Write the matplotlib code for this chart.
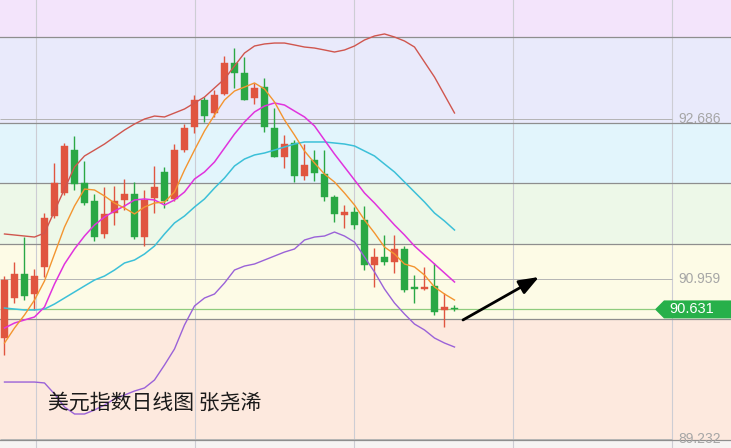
import numpy as np
import matplotlib
matplotlib.use("Agg")
import matplotlib.pyplot as plt
from matplotlib.patches import Polygon
import matplotlib.transforms as mtransforms

# ---------------- data ----------------
opens = [90.322, 90.754, 91.013, 90.797, 91.089, 91.639, 91.887, 92.351, 91.995, 91.801,
         91.445, 91.671, 91.812, 91.877, 91.412, 91.833, 92.114, 91.823, 92.351, 92.600,
         92.891, 92.751, 92.956, 93.291, 93.183, 92.913, 93.031, 92.589, 92.276, 92.427,
         92.071, 92.244, 92.092, 91.844, 91.650, 91.682, 91.596, 91.110, 91.197, 91.143,
         91.283, 90.862, 90.851, 90.884, 90.625, 90.646]
closes = [90.948, 91.013, 90.776, 90.991, 91.618, 91.995, 92.395, 91.984, 91.779, 91.412,
          91.661, 91.801, 91.877, 91.412, 91.812, 91.952, 91.801, 92.351, 92.589, 92.891,
          92.718, 92.945, 93.291, 93.183, 92.891, 93.021, 92.600, 92.276, 92.416, 92.071,
          92.190, 92.103, 91.844, 91.661, 91.682, 91.542, 91.110, 91.197, 91.143, 91.283,
          90.840, 90.851, 90.873, 90.603, 90.657, 90.631]
highs = [90.991, 91.143, 91.412, 91.067, 91.671, 92.211, 92.427, 92.503, 92.233, 91.877,
         91.952, 91.963, 92.038, 92.006, 91.920, 92.179, 92.168, 92.416, 92.632, 92.945,
         92.924, 92.999, 93.366, 93.452, 93.355, 93.075, 93.129, 92.805, 92.513, 92.459,
         92.416, 92.351, 92.351, 91.866, 91.758, 91.736, 91.747, 91.294, 91.434, 91.434,
         91.315, 91.002, 91.089, 91.132, 90.808, 90.678]
lows = [90.139, 90.700, 90.732, 90.625, 90.981, 91.618, 91.866, 91.920, 91.758, 91.369,
        91.402, 91.542, 91.704, 91.391, 91.315, 91.671, 91.725, 91.801, 92.330, 92.535,
        92.654, 92.708, 92.945, 93.021, 92.891, 92.848, 92.546, 92.276, 92.157, 92.006,
        92.028, 92.017, 91.801, 91.574, 91.510, 91.499, 91.056, 90.873, 91.110, 91.024,
        90.819, 90.700, 90.840, 90.571, 90.441, 90.614]

upper_band = [91.445, 91.434, 91.423, 91.412, 91.455, 91.693, 91.930, 92.168, 92.287, 92.351,
              92.416, 92.492, 92.567, 92.632, 92.686, 92.718, 92.708, 92.751, 92.794, 92.859,
              92.923, 93.021, 93.118, 93.258, 93.398, 93.474, 93.496, 93.506, 93.506, 93.485,
              93.463, 93.452, 93.431, 93.409, 93.431, 93.474, 93.539, 93.582, 93.604, 93.571,
              93.528, 93.463, 93.301, 93.139, 92.945, 92.751]
ma10 = [90.430, 90.484, 90.517, 90.549, 90.657, 90.905, 91.121, 91.283, 91.423, 91.542,
        91.628, 91.693, 91.747, 91.812, 91.823, 91.812, 91.758, 91.812, 91.898, 92.038,
        92.114, 92.222, 92.373, 92.524, 92.654, 92.762, 92.826, 92.859, 92.837, 92.772,
        92.708, 92.611, 92.459, 92.308, 92.168, 92.028, 91.887, 91.779, 91.661, 91.542,
        91.434, 91.315, 91.218, 91.121, 91.024, 90.927]
mid_band = [90.646, 90.635, 90.625, 90.625, 90.635, 90.689, 90.754, 90.819, 90.884, 90.948,
            90.991, 91.056, 91.132, 91.164, 91.229, 91.315, 91.445, 91.564, 91.639, 91.736,
            91.823, 91.941, 92.049, 92.179, 92.254, 92.298, 92.319, 92.351, 92.384, 92.416,
            92.438, 92.438, 92.438, 92.427, 92.416, 92.395, 92.341, 92.287, 92.200, 92.114,
            92.006, 91.898, 91.790, 91.671, 91.585, 91.488]
ma5 = [90.268, 90.430, 90.571, 90.732, 90.938, 91.229, 91.520, 91.747, 91.930, 91.920,
       91.855, 91.779, 91.725, 91.661, 91.736, 91.779, 91.790, 91.898, 92.136, 92.351,
       92.557, 92.729, 92.891, 92.988, 93.031, 93.075, 93.010, 92.870, 92.675, 92.513,
       92.341, 92.211, 92.092, 92.006, 91.887, 91.758, 91.596, 91.456, 91.304, 91.229,
       91.121, 91.089, 91.002, 90.873, 90.797, 90.732]
lower_band = [89.847, 89.847, 89.847, 89.847, 89.837, 89.718, 89.578, 89.502, 89.502, 89.545,
              89.599, 89.664, 89.707, 89.750, 89.783, 89.869, 90.031, 90.204, 90.463, 90.668,
              90.754, 90.797, 90.916, 91.056, 91.099, 91.121, 91.164, 91.207, 91.250, 91.283,
              91.380, 91.412, 91.423, 91.466, 91.423, 91.358, 91.197, 91.035, 90.851, 90.700,
              90.581, 90.473, 90.409, 90.322, 90.268, 90.225]

price_levels = [92.686, 90.959, 89.232]
price_labels = ["92.686", "90.959", "89.232"]
last_price = 90.631
last_label = "90.631"
zone_levels = [93.571, 92.643, 91.995, 91.337, 90.527, 89.221]
title_text = "美元指数日线图 张尧浠"

# ---------------- figure ----------------
W, H = 731, 448
fig = plt.figure(figsize=(W / 100, H / 100), dpi=100)
ax = fig.add_axes([0, 0, 1, 1])
ax.set_axis_off()

x_left, x_right = -0.45, 72.65
y_bottom, y_top = 89.135, 93.9705
ax.set_xlim(x_left, x_right)
ax.set_ylim(y_bottom, y_top)

# colored zones
zone_colors = ['#f3e4fb', '#e9eafb', '#e2f5fc', '#edf8e8', '#fdfbe6', '#fde9de', '#f6f4f3']
edges = [y_top] + zone_levels + [y_bottom]
for i, c in enumerate(zone_colors):
    ax.axhspan(edges[i + 1], edges[i], color=c, zorder=0, lw=0)

# vertical grid
for xv in [3.15, 19.05, 34.95, 50.85, 66.75]:
    ax.axvline(xv, color='#cdcdd4', lw=0.8, zorder=1)

# zone boundary lines
for lv in zone_levels:
    ax.axhline(lv, color='#8e8e8e', lw=0.9, zorder=1)

# price level lines and labels
blend = mtransforms.blended_transform_factory(ax.transAxes, ax.transData)
for lv, lab in zip(price_levels, price_labels):
    ax.hlines(lv, x_left, 66.75, color='#b4b4b4', lw=0.7, zorder=1)
    ax.text(0.986, lv, lab, transform=blend,
            ha='right', va='center', fontsize=10, color='#a6a6a6', family='Liberation Sans', zorder=5)

# last price line and tag
ax.hlines(last_price, x_left, 65.05, color='#8fcc7e', lw=0.9, zorder=1)
h = 0.097
tag = Polygon([(655 / W, last_price), (664 / W, last_price + h), (1.0, last_price + h),
               (1.0, last_price - h), (664 / W, last_price - h)],
              closed=True, transform=blend, facecolor='#27b04a', edgecolor='none', zorder=6)
ax.add_patch(tag)
ax.text(692 / W, last_price, last_label, transform=blend, ha='center', va='center',
        fontsize=10.5, color='white', family='Liberation Sans', zorder=7)

# candles
idx = np.arange(len(opens))
o = np.array(opens); c = np.array(closes); hi = np.array(highs); lo = np.array(lows)
up = c >= o
col_up, col_dn = '#e05540', '#2aa845'
colors = np.where(up, col_up, col_dn)
ax.vlines(idx, lo, hi, colors=colors, lw=1.0, zorder=3)
body_bottom = np.minimum(o, c)
body_h = np.maximum(np.abs(c - o), 0.02)
ax.bar(idx, body_h, bottom=body_bottom, width=0.7, color=colors, edgecolor=colors, lw=0.3, zorder=3)

# indicator lines
ax.plot(idx, upper_band, color='#d0564e', lw=1.0, zorder=4)
ax.plot(idx, mid_band, color='#3cc0d8', lw=1.1, zorder=4)
ax.plot(idx, ma10, color='#e033dd', lw=1.1, zorder=4)
ax.plot(idx, ma5, color='#f39530', lw=1.0, zorder=4)
ax.plot(idx, lower_band, color='#9a62d8', lw=1.0, zorder=4)

# arrow
ax.annotate('', xy=(53.45, 90.981), xytext=(45.85, 90.517),
            arrowprops=dict(arrowstyle='-|>,head_length=0.8,head_width=0.3',
                            color='black', lw=2.0, mutation_scale=15, shrinkA=0, shrinkB=0),
            zorder=6)

# caption
ax.text(48 / W, 1 - 403 / H, title_text, transform=ax.transAxes, ha='left', va='center',
        fontsize=15, color='#1a1a1a', family=['Noto Sans CJK SC', 'DejaVu Sans'], zorder=7)

fig.savefig('out.png', dpi=100)
